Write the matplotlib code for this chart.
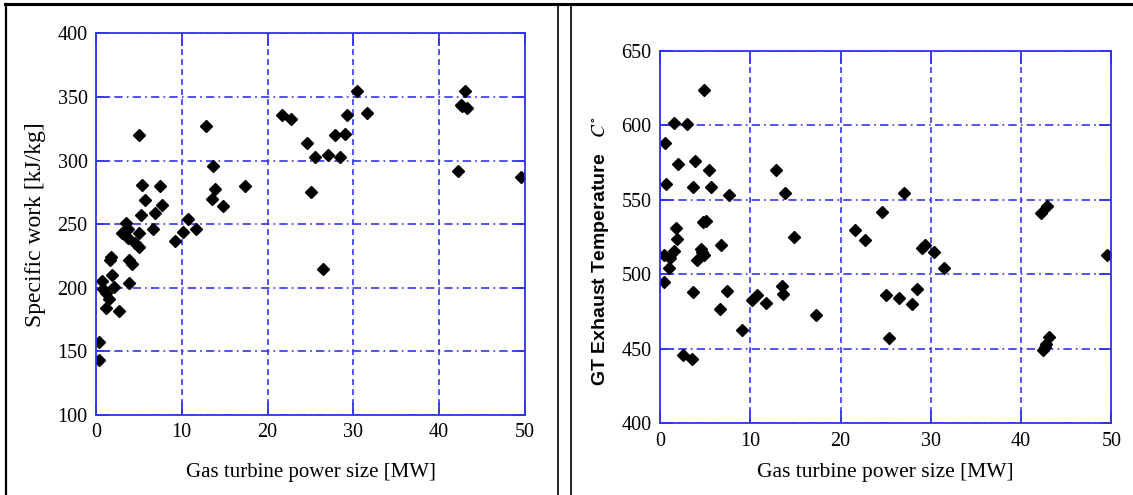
import matplotlib
matplotlib.use("Agg")
import matplotlib.pyplot as plt
from matplotlib.lines import Line2D

# left panel: specific work vs GT size
left_x = [0.4, 0.4, 0.7, 0.8, 1.2, 1.5, 1.2, 1.6, 1.7, 1.9, 2.1, 2.7, 3.0, 3.5, 3.7,
          3.7, 3.8, 3.9, 4.2, 4.6, 5.0, 5.0, 5.0, 5.2, 5.4, 5.7, 6.7, 6.9, 7.5, 7.7,
          9.2, 10.2, 10.7, 11.7, 12.8, 13.7, 13.5, 13.9, 14.8, 17.4, 21.7, 22.7, 24.6,
          25.5, 25.1, 26.5, 27.0, 27.9, 28.5, 29.0, 29.3, 30.4, 31.6, 42.2, 42.5, 42.7,
          43.0, 43.2, 49.6]
left_y = [157, 143, 205, 199, 196, 191, 184, 222, 224, 210, 201, 182, 243, 251, 246,
          239, 204, 222, 219, 235, 232, 243, 320, 257, 281, 269, 246, 259, 280, 265,
          237, 244, 254, 246, 327, 296, 270, 278, 264, 280, 336, 333, 314,
          303, 275, 215, 304, 320, 303, 321, 336, 355, 337, 292, 344, 343,
          355, 341, 287]

# right panel: exhaust temperature vs GT size
right_x = [4.9, 1.6, 3.0, 0.6, 2.0, 3.9, 5.4, 0.7, 3.7, 5.7, 7.6, 4.8, 5.1, 1.8, 1.9,
           1.5, 1.1, 0.5, 1.0, 0.4, 4.5, 4.6, 4.9, 4.1, 6.8, 3.7, 6.7, 7.4, 2.6, 3.5,
           9.1, 10.2, 10.7, 11.7, 12.8, 13.8, 13.5, 13.6, 14.8, 17.3, 21.6, 22.7, 24.6,
           25.0, 25.4, 26.5, 27.0, 27.9, 28.5, 29.0, 29.3, 30.3, 31.5, 42.2, 42.9, 42.4,
           42.6, 42.8, 43.1, 49.5]
right_y = [624, 602, 601, 588, 574, 576, 570, 561, 559, 559, 553, 535, 536, 531, 524,
           516, 511, 513, 504, 495, 517, 515, 513, 510, 520, 488, 477, 489, 446, 443,
           463, 483, 486, 481, 570, 555, 492, 487, 525, 473, 530, 523, 542,
           486, 457, 484, 555, 480, 490, 518, 520, 515, 504, 541, 546, 449,
           451, 453, 458, 513]

x_ticks = [0, 10, 20, 30, 40, 50]
left_ticks = [100, 150, 200, 250, 300, 350, 400]
right_ticks = [400, 450, 500, 550, 600, 650]

blue = "#3434f0"
serif = "Liberation Serif"
plt.rcParams["mathtext.fontset"] = "stix"

fig = plt.figure(figsize=(11.33, 4.95), dpi=100)
ax1 = fig.add_axes([0.0847, 0.1616, 0.3786, 0.7711])
ax2 = fig.add_axes([0.5825, 0.1448, 0.3985, 0.7521])


def style(ax, yticks):
    ax.set_xlim(0, 50)
    ax.set_ylim(yticks[0], yticks[-1])
    ax.set_xticks(x_ticks)
    ax.set_yticks(yticks)
    for s in ax.spines.values():
        s.set_color(blue)
        s.set_linewidth(1.3)
    ax.tick_params(direction="in", length=9, width=1.3, color=blue,
                   top=True, right=True, labelsize=14.5, pad=6)
    for lab in ax.get_xticklabels() + ax.get_yticklabels():
        lab.set_fontfamily(serif)
    ax.xaxis.grid(True, color=blue, linewidth=1.2, linestyle=(0, (3.5, 2.5)))
    ax.yaxis.grid(True, color=blue, linewidth=1.2, linestyle=(0, (5, 2.5, 1, 2.5)))
    ax.set_axisbelow(True)


style(ax1, left_ticks)
ax1.plot(left_x, left_y, "D", color="black", markersize=6, linestyle="none")
ax1.set_xlabel("Gas turbine power size [MW]", fontfamily=serif, fontsize=15, labelpad=15)
ax1.set_ylabel("Specific work [kJ/kg]", fontfamily=serif, fontsize=17, labelpad=8)

style(ax2, right_ticks)
ax2.plot(right_x, right_y, "D", color="black", markersize=6, linestyle="none")
ax2.set_xlabel("Gas turbine power size [MW]", fontfamily=serif, fontsize=15.5, labelpad=9)
ax2.set_ylabel(r"GT Exhaust Temperature   $C^{\circ}$", fontfamily="Liberation Sans",
               fontweight="bold", fontsize=14)
ax2.yaxis.set_label_coords(-0.108, 0.463)

# black frame around the two panels
fig.add_artist(Line2D([0.004, 1.0], [0.991, 0.991], color="black", linewidth=2.2,
                      transform=fig.transFigure))
fig.add_artist(Line2D([0.0053, 0.0053], [0.0, 0.991], color="black", linewidth=1.6,
                      transform=fig.transFigure))
fig.add_artist(Line2D([0.4925, 0.4925], [0.0, 0.991], color="black", linewidth=1.2,
                      transform=fig.transFigure))
fig.add_artist(Line2D([0.504, 0.504], [0.0, 0.991], color="black", linewidth=1.2,
                      transform=fig.transFigure))

fig.savefig("out.png", dpi=100)
